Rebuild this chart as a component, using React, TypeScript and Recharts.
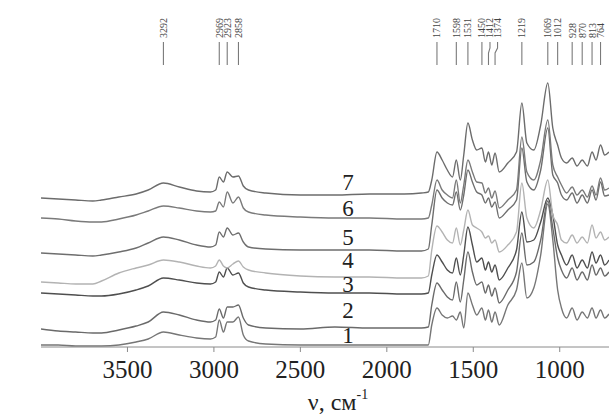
import React from 'react';
import { ComposedChart, Line, XAxis, YAxis, Scatter, ReferenceDot, Label } from 'recharts';

const wavenumbers = [4000,3900,3800,3700,3650,3550,3450,3380,3292,3200,3100,3020,2990,2969,2945,2923,2890,2858,2830,2800,2700,2500,2300,2100,1900,1800,1760,1740,1710,1680,1650,1620,1598,1575,1555,1531,1505,1480,1450,1430,1412,1393,1374,1350,1300,1250,1219,1190,1150,1110,1069,1040,1012,990,960,928,900,870,840,813,790,764,740,715];

const spectrum1 = [2,2,1,1,1,2,5,8,15,12,9,8,10,27,15,25,25,30,12,6,3,2,2,2,2,2,2,22,39,32,29,31,27,35,19,54,42,32,39,27,37,25,35,22,42,57,84,49,59,92,143,107,57,39,29,39,27,35,29,39,29,37,29,33];
const spectrum2 = [18,16,15,14,14,17,21,25,35,32,27,25,27,38,29,40,40,42,29,22,19,18,20,19,19,19,20,42,64,57,50,47,65,45,67,95,75,62,65,54,62,51,59,44,57,75,114,82,85,107,146,119,89,77,69,79,67,75,67,82,72,79,71,75];
const spectrum3 = [54,53,52,51,51,53,57,61,69,67,64,63,65,75,70,79,72,74,64,60,57,55,54,54,53,53,54,72,92,85,77,74,89,72,92,120,102,85,89,77,85,75,82,67,79,97,135,105,107,125,149,132,102,92,82,92,79,87,79,95,84,92,82,87];
const spectrum4 = [65,64,63,63,66,74,79,82,87,85,81,79,81,87,81,79,83,86,80,77,74,71,70,70,69,69,71,97,121,115,107,104,119,102,117,137,122,119,115,109,111,104,107,95,102,115,164,129,119,137,167,132,122,107,104,112,104,110,104,122,109,115,107,110];
const spectrum5 = [94,93,92,91,92,95,99,104,110,107,102,100,102,115,110,119,112,114,105,100,98,97,97,97,96,96,98,122,157,149,144,142,155,137,152,177,165,155,152,144,149,140,145,129,137,147,199,165,157,177,219,172,164,152,147,154,144,152,144,157,147,165,151,152];
const spectrum6 = [129,128,126,125,125,128,132,136,141,139,136,135,136,145,140,155,144,150,139,135,132,130,129,129,128,128,129,142,167,157,152,149,167,144,162,187,175,165,164,154,159,149,156,139,147,157,210,175,167,187,227,182,170,162,154,160,152,157,150,161,152,169,157,159];
const spectrum7 = [149,148,147,146,147,150,153,157,164,160,156,155,157,170,165,175,170,171,161,157,154,152,152,153,153,154,155,167,195,187,177,170,187,167,192,224,207,197,199,185,195,182,194,175,184,195,244,204,197,222,264,219,202,189,184,189,181,187,181,195,187,202,192,195];

const curveNames = ['1','2','3','4','5','6','7'];
const curveLabelLevels = [12, 37, 63, 87, 110, 139, 165];
const curveLabelWavenumber = 2225;

const peakWavenumbers = [3292,2969,2923,2858,1710,1598,1531,1450,1412,1374,1219,1069,1012,928,870,813,764];

const xTicks = [3500,3000,2500,2000,1500,1000];
const yTicks = [10,49,88,127,166,205,244,283,322];

const spectra = [spectrum1, spectrum2, spectrum3, spectrum4, spectrum5, spectrum6, spectrum7];
const colors = ['#767676','#6a6a6a','#4f4f4f','#b3b3b3','#6e6e6e','#7a7a7a','#6c6c6c'];

const series = spectra.map((s) => wavenumbers.map((v, i) => ({ v, a: s[i] })));
const peakData = peakWavenumbers.map((v) => ({ v, a: 282 }));

const serif = '"Liberation Serif", "Times New Roman", "DejaVu Serif", serif';

// small sideways nudge of crowded peak labels (the leader line bends)
const nudge = (v: number) => (v === 1412 ? 1.5 : v === 1374 ? 2.5 : 0);

const PeakMark = (props: any) => {
  const { cx, cy, payload } = props;
  if (cx == null || cy == null) return null;
  const n = nudge(payload.v);
  return (
    <g>
      <polyline
        points={`${cx},${cy} ${cx},${cy - 12} ${cx + n},${cy - 17} ${cx + n},${cy - 23}`}
        fill="none"
        stroke="#7a7a7a"
        strokeWidth={1.1}
      />
      <text
        transform={`translate(${cx + n},${cy - 27}) rotate(-90)`}
        dy="0.35em"
        fontSize={10}
        fontFamily={serif}
        fill="#444"
        textAnchor="start"
      >
        {payload.v}
      </text>
    </g>
  );
};

export default function App() {
  return (
    <div style={{ position: 'absolute', left: 0, top: 0, background: '#fff' }}>
      <ComposedChart width={609} height={414} margin={{ top: 15, right: 0, bottom: 27, left: 41 }}>
        <XAxis
          dataKey="v"
          type="number"
          domain={[715, 4000]}
          reversed
          allowDataOverflow
          ticks={xTicks}
          height={40}
          stroke="#8a8a8a"
          tickSize={5}
          tickMargin={8}
          tick={{ fontSize: 25, fontFamily: serif, fill: '#222' }}
        >
          <Label
            content={() => (
              <text x={338} y={410} textAnchor="middle" fontSize={24} fontFamily={serif} fill="#222">
                ν, см<tspan fontSize={14} dy={-11}>-1</tspan>
              </text>
            )}
          />
        </XAxis>
        <YAxis
          type="number"
          domain={[0, 332]}
          allowDataOverflow
          width={0}
          ticks={yTicks}
          tick={false}
          mirror
          tickSize={3}
          stroke="#8a8a8a"
        >
          <Label
            content={() => (
              <text
                transform="translate(16,202) rotate(-90)"
                dy="0.35em"
                textAnchor="middle"
                fontSize={24}
                fontFamily={serif}
                fill="#222"
              >
                Поглинання
              </text>
            )}
          />
        </YAxis>
        {series.map((d, i) => (
          <Line
            key={curveNames[i]}
            data={d}
            dataKey="a"
            type="monotone"
            stroke={colors[i]}
            strokeWidth={1.4}
            dot={false}
            activeDot={false}
            isAnimationActive={false}
          />
        ))}
        <Scatter data={peakData} dataKey="a" shape={PeakMark} isAnimationActive={false} />
        {curveNames.map((n, i) => (
          <ReferenceDot
            key={'lbl' + n}
            x={curveLabelWavenumber}
            y={curveLabelLevels[i]}
            r={0}
            shape={(p: any) => (
              <text x={p.cx} y={p.cy} dy="0.35em" textAnchor="middle" fontSize={23} fontFamily={serif} fill="#222">
                {n}
              </text>
            )}
          />
        ))}
      </ComposedChart>
    </div>
  );
}
